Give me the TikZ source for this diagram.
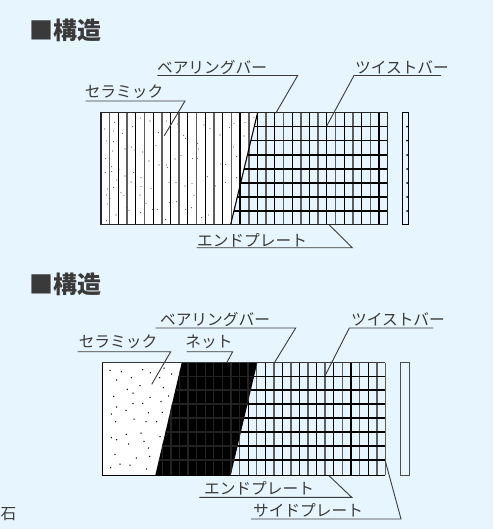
\documentclass[tikz,border=0pt]{standalone}
\usepackage{fontspec}
\setmainfont{Noto Sans CJK JP}
\usetikzlibrary{positioning}
\definecolor{pagebg}{HTML}{E7F5FF}
\definecolor{inkgray}{HTML}{3A3A3A}
\definecolor{bargray}{HTML}{5E5E5E}
\definecolor{netgray}{HTML}{222222}
\tikzstyle{title} = [inner sep=0pt, font=\fontsize{24}{24}\selectfont\bfseries, text=inkgray]
\tikzstyle{part} = [inner sep=0pt, font=\fontsize{15.7}{16}\selectfont, text=inkgray]
\tikzstyle{leader} = [line width=0.9pt, draw=inkgray]
\tikzstyle{twist} = [line width=1.1pt, draw=black]
\tikzstyle{bar} = [line width=1.6pt, draw=bargray]
\tikzstyle{cross} = [line width=1.4pt, draw=black]
\tikzstyle{frame} = [line width=1.2pt, draw=black!85]
\newcommand{\dotlistA}{104/237,134/217,130/243,157/250,188/230,212/204,240/213,290/213,322/222,352/205,380/204,110/273,130/275,165/297,185/291,195/300,128/303,107/326,218/306,237/333,258/287,265/248,341/256,347/265,383/280,385/297,402/225,420/235,450/255,478/233,492/220,525/218,552/203,522/258,490/291,500/320,467/343,452/342,383/325,368/326,333/316,315/327,290/345,292/352,267/345,125/350,125/365,106/368,147/358,191/367,213/383,140/390,131/412,165/378,183/396,213/410,243/415,297/397,318/397,345/408,366/400,372/437,412/380,437/408,466/397,500/383,415/495,395/503,364/473,347/478,320/455,298/458,287/508,263/478,247/478,228/460,212/488,177/481,170/473,153/427,162/437,112/417,110/435,112/462,118/489,110/512,138/495,120/445,210/435}
\newcommand{\dotlistB}{120/211,154/215,218/209,241/218,282/204,305/222,140/240,184/233,269/233,210/257,280/263,172/268,189/279,131/289,240/292,296/288,189/311,218/310,273/305,140/321,168/331,235/338,277/337,124/342,192/357,137/365,228/365,260/365,213/399,169/403,270/410,124/413,140/419,222/424,176/432,235/444,135/463,239/469,199/474,150/492,180/495,122/503,230/507}
\begin{document}
\begin{tikzpicture}[x=1pt, y=-1pt]
	\useasboundingbox (0,0) rectangle (493,529);
	\fill [pagebg] (0,0) rectangle (493,529);

	\node (title_top) [title] at (65,30) {■構造};
	\node (title_bottom) [title] at (65,284) {■構造};
	\node (stone) [part, anchor=east] at (16.5,514) {石};

	% upper panel
	\fill [white] (101,112.3) -- (257.7,112.3) -- (230.7,224.3) -- (101,224.3) -- cycle;
	\foreach \k in {0,...,32} {
		\pgfmathsetmacro{\xa}{101+\k*8.688}
		\ifodd\k
			\draw [bar] (\xa,112.3) -- (\xa,224.3);
		\else
			\draw [twist] (\xa,112.3) -- (\xa,224.3);
		\fi
	}
	\begin{scope}
		\clip (257.7,112.3) -- (388,112.3) -- (388,224.3) -- (230.7,224.3) -- cycle;
		\foreach \ya in {126.7,140.7,155,169,183,197,211}
			\draw [cross] (220,\ya) -- (388,\ya);
	\end{scope}
	\foreach \dx/\dy in \dotlistA
		\fill [black!75] ({70+\dx/3},{50+\dy/3}) circle (0.55);
	\draw [twist] (257.7,112.3) -- (230.7,224.3);
	\draw [frame] (101,112.3) rectangle (387.7,224.3);
	\draw [line width=1.3pt, draw=black] (402.3,112.3) rectangle (408.3,224.3);
	\foreach \ya in {126.7,140.7,155,169,183,197,211}
		\fill [black] (407,\ya) circle (1);

	\node (ceramic_top) [part] at (124,92) {セラミック};
	\node (bearing_top) [part] at (212,67) {ベアリングバー};
	\node (twist_top) [part] at (402,67) {ツイストバー};
	\node (endplate_top) [part] at (252,240) {エンドプレート};

	\coordinate (ceramic_top_a) at (85.7,101);
	\coordinate (ceramic_top_b) at (185,101);
	\coordinate (ceramic_top_c) at (164.3,135.7);
	\coordinate (bearing_top_a) at (157.3,75.5);
	\coordinate (bearing_top_b) at (297.7,75.5);
	\coordinate (bearing_top_c) at (275.7,113.3);
	\coordinate (twist_top_a) at (441,75.5);
	\coordinate (twist_top_b) at (354,75.5);
	\coordinate (twist_top_c) at (326.7,126);
	\coordinate (endplate_top_a) at (196.7,247.7);
	\coordinate (endplate_top_b) at (352.3,247.7);
	\coordinate (endplate_top_c) at (329.3,225);

	\draw [leader] (ceramic_top_a) -- (ceramic_top_b) -- (ceramic_top_c);
	\draw [leader] (bearing_top_a) -- (bearing_top_b) -- (bearing_top_c);
	\draw [leader] (twist_top_a) -- (twist_top_b) -- (twist_top_c);
	\draw [leader] (endplate_top_a) -- (endplate_top_b) -- (endplate_top_c);

	% lower panel
	\fill [white] (102.3,362.7) -- (181.7,362.7) -- (155.3,475.3) -- (102.3,475.3) -- cycle;
	\foreach \dx/\dy in \dotlistB
		\fill [black] ({70+\dx/3},{300+\dy/3}) circle (0.75);
	\begin{scope}
		\clip (257.3,362.7) -- (385.5,362.7) -- (385.5,475.3) -- (230.7,475.3) -- cycle;
		\foreach \k in {0,...,33} {
			\pgfmathsetmacro{\xa}{102.3+\k*8.576}
			\ifodd\k
				\draw [twist] (\xa,362.7) -- (\xa,475.3);
			\else
				\draw [bar] (\xa,362.7) -- (\xa,475.3);
			\fi
		}
		\foreach \ya in {376.3,390,404,418,432,446,460}
			\draw [cross] (220,\ya) -- (386,\ya);
	\end{scope}
	\begin{scope}
		\clip (181.7,362.7) -- (257.3,362.7) -- (230.7,475.3) -- (155.3,475.3) -- cycle;
		\fill [black] (150,360) rectangle (260,478);
		\foreach \k in {6,...,18}
			\draw [line width=1.4pt, draw=netgray] ({102.3+\k*8.576},362.7) -- ({102.3+\k*8.576},475.3);
		\foreach \ya in {376.3,390,404,418,432,446,460}
			\draw [line width=1.4pt, draw=netgray] (150,\ya) -- (260,\ya);
	\end{scope}
	\draw [line width=1.3pt, draw=inkgray] (102.3,362.7) -- (385.3,362.7);
	\draw [line width=1.2pt, draw=black] (385.3,475.3) -- (102.3,475.3) -- (102.3,362.7);
	\draw [line width=1.5pt, draw=bargray] (385.3,362.7) -- (385.3,475.3);
	\draw [line width=1pt, draw=black!70] (400.3,362.7) rectangle (409.7,475.3);

	\node (ceramic_bottom) [part] at (118,342) {セラミック};
	\node (net_bottom) [part] at (209,342) {ネット};
	\node (bearing_bottom) [part] at (215,319) {ベアリングバー};
	\node (twist_bottom) [part] at (398,319) {ツイストバー};
	\node (endplate_bottom) [part] at (259,488) {エンドプレート};
	\node (sideplate_bottom) [part] at (308,510) {サイドプレート};

	\coordinate (ceramic_bottom_a) at (77.7,351.7);
	\coordinate (ceramic_bottom_b) at (170.7,351.7);
	\coordinate (ceramic_bottom_c) at (151.7,384.3);
	\coordinate (net_bottom_a) at (186.7,351.7);
	\coordinate (net_bottom_b) at (232.7,351.7);
	\coordinate (net_bottom_c) at (226.7,362.7);
	\coordinate (bearing_bottom_a) at (155.7,328);
	\coordinate (bearing_bottom_b) at (295.7,328);
	\coordinate (bearing_bottom_c) at (274,363.3);
	\coordinate (twist_bottom_a) at (433.3,328);
	\coordinate (twist_bottom_b) at (349.3,328);
	\coordinate (twist_bottom_c) at (325,375.7);
	\coordinate (endplate_bottom_a) at (199.3,497.3);
	\coordinate (endplate_bottom_b) at (351.7,497.3);
	\coordinate (endplate_bottom_c) at (329,475.7);
	\coordinate (sideplate_bottom_a) at (251,519);
	\coordinate (sideplate_bottom_b) at (401,519);
	\coordinate (sideplate_bottom_c) at (385.3,461);

	\draw [leader] (ceramic_bottom_a) -- (ceramic_bottom_b) -- (ceramic_bottom_c);
	\draw [leader] (net_bottom_a) -- (net_bottom_b) -- (net_bottom_c);
	\draw [leader] (bearing_bottom_a) -- (bearing_bottom_b) -- (bearing_bottom_c);
	\draw [leader] (twist_bottom_a) -- (twist_bottom_b) -- (twist_bottom_c);
	\draw [leader] (endplate_bottom_a) -- (endplate_bottom_b) -- (endplate_bottom_c);
	\draw [leader] (sideplate_bottom_a) -- (sideplate_bottom_b) -- (sideplate_bottom_c);
\end{tikzpicture}
\end{document}
